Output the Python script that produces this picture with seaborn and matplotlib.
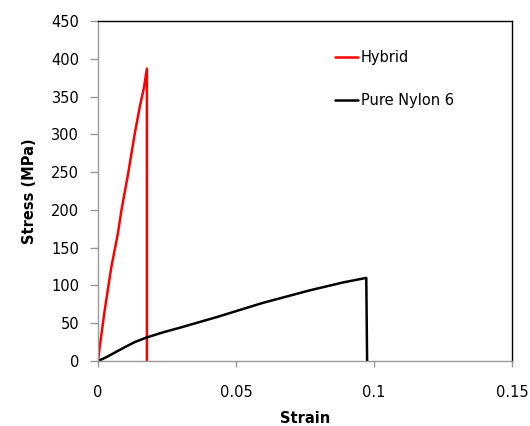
import matplotlib
matplotlib.use("Agg")
import matplotlib.pyplot as plt
import seaborn as sns
import pandas as pd

# Hybrid
hybrid_strain = [0.0, 0.0006, 0.0024, 0.0048, 0.0072, 0.0085, 0.0109, 0.0133, 0.0151, 0.0167, 0.0177, 0.0177]
hybrid_stress = [0, 18.5, 67, 124, 169, 200, 248, 301, 336, 363, 387, 0]
# Pure Nylon 6
nylon_strain = [0.0, 0.0030, 0.0060, 0.0103, 0.0133, 0.0175, 0.0236, 0.0296, 0.0429, 0.0598, 0.0767, 0.0888, 0.0972, 0.0975]
nylon_stress = [0, 5, 11, 19.5, 25, 31, 38, 44, 58, 77, 93.5, 104, 110, 0]

series_names = ["Hybrid", "Pure Nylon 6"]
colors = ["#ff0000", "#000000"]
x_ticks = [0, 0.05, 0.1, 0.15]
x_tick_labels = ["0", "0.05", "0.1", "0.15"]
y_ticks = [0, 50, 100, 150, 200, 250, 300, 350, 400, 450]

df = pd.concat([
    pd.DataFrame({"Strain": hybrid_strain, "Stress": hybrid_stress, "series": series_names[0]}),
    pd.DataFrame({"Strain": nylon_strain, "Stress": nylon_stress, "series": series_names[1]}),
], ignore_index=True)

sns.set_style("white")
plt.rcParams['font.family'] = ['DejaVu Sans']
plt.rcParams['text.color'] = 'black'
plt.rcParams['axes.labelcolor'] = 'black'

fig = plt.figure(figsize=(5.3, 4.26), dpi=100)
ax = fig.add_axes([0.185, 0.1526, 0.781, 0.798])

sns.lineplot(data=df, x="Strain", y="Stress", hue="series", palette=colors,
             hue_order=series_names, sort=False, estimator=None,
             linewidth=1.8, ax=ax)

ax.set_xlim(0, 0.15)
ax.set_ylim(0, 450)
ax.set_xticks(x_ticks)
ax.set_xticklabels(x_tick_labels)
ax.set_yticks(y_ticks)

for s in ["top", "right"]:
    ax.spines[s].set_color("#000000")
    ax.spines[s].set_linewidth(1.0)
for s in ["left", "bottom"]:
    ax.spines[s].set_color("#999999")
    ax.spines[s].set_linewidth(1.0)

ax.tick_params(axis="y", direction="out", length=5.5, width=1, color="#999999",
               labelsize=10.5, pad=8, left=True, labelcolor="black")
ax.tick_params(axis="x", direction="out", length=4.5, width=1, color="#999999",
               labelsize=10.5, pad=13, bottom=True, labelcolor="black")

ax.set_xlabel("Strain", fontsize=10.5, fontweight="bold", labelpad=8, color="black")
ax.set_ylabel("Stress (MPa)", fontsize=10.5, fontweight="bold", labelpad=10, color="black")

leg = ax.legend(loc="upper left", bbox_to_anchor=(0.541, 0.954), frameon=False,
                fontsize=10.5, handlelength=1.6, handletextpad=0.15, labelspacing=1.95)
for t in leg.get_texts():
    t.set_color("black")

fig.savefig("out.png", dpi=100)
